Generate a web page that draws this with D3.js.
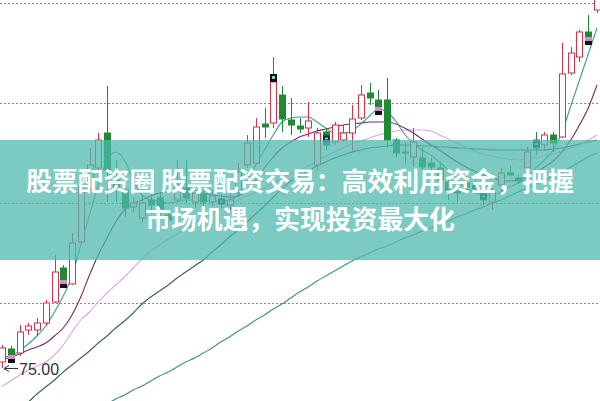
<!DOCTYPE html>
<html><head><meta charset="utf-8">
<script src="https://cdn.jsdelivr.net/npm/d3@7"></script>
<style>html,body{margin:0;padding:0;background:#fff;overflow:hidden}</style>
</head><body><svg id="c" width="600" height="401"></svg>
<script>
// ---- data (prices) ----
const opens  = [75.6,76.9,76.5,78.8,78.8,79.5,81.6,85.0,83.4,87.6,93.0,95.0,98.5,93.8,92.8,91.1,90.0,91.8,92.0,90.3,91.8,93.0,91.6,92.4,91.6,91.8,91.3,92.5,95.3,95.5,99.4,99.5,102.3,99.8,99.2,99.0,95.3,98.6,97.6,97.8,98.5,100.0,102.5,101.8,101.8,97.8,96.6,96.1,96.0,95.5,95.0,93.6,92.9,93.5,93.3,92.5,91.6,93.3,94.5,94.0,95.0,97.8,97.3,98.3,98.1,104.5,106.1,108.6,110.8];
const highs  = [77.3,77.2,79.3,79.5,80.0,81.8,86.3,85.3,88.5,94.0,97.0,98.5,103.2,95.8,93.3,92.0,92.3,92.4,92.6,90.8,95.8,95.8,93.0,93.2,92.8,92.4,92.5,95.5,98.3,100.0,101.0,106.1,103.2,102.0,100.0,101.6,99.0,99.0,99.6,99.3,101.3,103.3,103.5,102.8,104.0,98.0,97.6,99.0,97.1,96.0,95.4,94.1,93.3,94.5,93.8,93.0,93.0,95.0,95.2,94.3,97.1,98.6,98.6,98.6,107.5,107.1,108.8,110.3,113.0];
const lows   = [75.0,75.8,76.2,78.3,78.2,79.2,81.5,83.6,83.3,87.5,92.5,94.5,91.6,91.6,90.1,90.6,89.6,90.8,90.2,89.2,91.6,91.5,91.0,91.2,91.2,91.0,90.6,92.1,95.0,95.3,98.0,99.0,98.6,98.3,98.5,98.1,94.8,96.8,97.3,97.6,96.6,99.8,101.3,100.8,97.1,96.1,95.5,95.1,94.8,94.8,93.3,91.8,91.6,92.6,92.4,91.3,90.8,92.6,94.2,93.4,94.8,96.3,96.8,96.6,98.0,104.3,105.6,107.3,110.5];
const closes = [77.0,76.3,78.6,79.2,79.5,81.5,84.6,83.8,87.5,93.1,95.3,97.8,94.8,93.0,91.0,91.5,91.5,91.3,90.6,89.8,93.3,92.0,92.5,91.6,92.2,91.5,91.8,94.6,97.5,99.1,99.1,103.6,99.9,99.3,98.9,99.7,98.5,97.3,99.3,98.5,99.9,102.3,102.0,101.1,97.8,96.5,96.5,97.6,95.1,95.1,93.8,92.6,92.5,93.1,92.9,91.8,92.6,94.5,94.3,93.7,96.6,97.0,98.3,97.5,104.4,106.5,108.6,108.1,112.5];
// signal markers on some candles: [candle index, kind]
const markers = [[1,'pb'],[7,'pb'],[25,'dk'],[31,'top'],[37,'dk'],[43,'pb'],[55,'dk'],[61,'dk'],[67,'pb']];
// moving averages (price)
const ma5  = [76.1,76.2,76.7,77.4,78.2,79.2,80.6,82.2,84.2,87.3,90.3,93.3,95.8,96.6,95.8,93.8,92.3,91.8,91.7,91.5,91.6,91.8,91.8,91.7,91.7,91.7,91.8,92.3,93.6,95.3,96.8,98.3,99.6,100.0,100.1,100.1,99.6,99.0,98.5,98.5,98.7,99.4,100.2,100.9,100.6,99.7,98.4,97.5,96.8,96.3,95.6,94.8,93.8,93.0,92.6,92.3,92.3,92.6,93.1,93.5,94.0,95.0,95.8,96.8,98.6,101.2,103.8,106.4,109.0];
const ma10 = [75.8,76.1,76.4,76.8,77.1,77.5,78.2,79.0,80.3,82.1,84.3,86.3,88.0,89.6,90.8,91.4,91.8,92.2,92.5,92.6,92.6,92.6,92.6,92.5,92.3,92.2,92.1,92.2,92.8,93.8,95.0,96.1,97.0,97.6,98.1,98.4,98.7,98.9,99.1,99.3,99.4,99.5,99.6,99.6,99.6,99.4,99.0,98.5,97.9,97.3,96.8,96.2,95.6,95.1,94.7,94.3,94.0,93.8,93.7,93.8,94.1,94.6,95.1,95.7,96.6,97.8,99.3,101.0,103.3];
const ma20 = [73.2,73.7,74.3,74.8,75.2,75.6,76.3,77.3,78.6,79.8,80.6,81.6,82.5,83.3,84.1,85.0,85.9,86.7,87.3,87.9,88.4,88.9,89.4,90.0,90.5,91.0,91.4,91.8,92.2,92.6,93.0,93.5,94.0,94.4,94.8,95.2,95.7,96.2,96.6,97.0,97.4,97.7,98.0,98.3,98.5,98.7,98.8,98.8,98.8,98.7,98.3,97.9,97.5,97.1,96.7,96.4,96.2,96.0,95.9,95.8,95.9,96.0,96.2,96.4,96.7,97.0,97.3,97.8,98.3];
const ma60 = [69.5,70.2,70.9,71.6,72.4,73.1,73.8,74.6,75.3,76.0,76.7,77.5,78.2,79.0,79.7,80.5,81.4,82.1,82.7,83.3,84.0,84.6,85.2,85.8,86.6,87.3,88.1,88.8,89.6,90.4,91.2,92.1,92.9,93.7,94.2,94.7,95.2,95.6,96.0,96.3,96.6,96.8,97.0,97.1,97.2,97.3,97.3,97.3,97.2,97.2,97.1,97.1,97.0,97.0,96.9,96.9,96.8,96.8,96.8,96.8,96.8,96.8,96.8,96.9,97.0,97.2,97.4,97.6,97.8];
const ma120= [65.8,66.3,66.7,67.2,67.7,68.1,68.6,69.0,69.5,70.0,70.4,70.9,71.4,71.9,72.3,72.8,73.2,73.7,74.2,74.6,75.1,75.6,76.0,76.5,77.0,77.6,78.1,78.7,79.2,79.8,80.3,80.9,81.4,82.0,82.6,83.1,83.7,84.2,84.7,85.2,85.7,86.1,86.5,86.9,87.2,87.6,88.0,88.3,88.7,89.0,89.4,89.7,90.1,90.4,90.8,91.1,91.5,91.8,92.2,92.6,93.0,93.4,93.8,94.2,94.6,95.1,95.6,96.1,96.5];
const gridPrices = [111.5, 101.5, 91.5, 81.5];
const lowLabel = "75.00";
const titleLines = ["股票配资圈 股票配资交易：高效利用资金，把握", "市场机遇，实现投资最大化"];

// ---- drawing ----
const W = 600, H = 401;
const svg = d3.select("#c");
const x = d3.scaleLinear().domain([0, opens.length - 1]).range([2, 597]);
const y = d3.scaleLinear().domain([75, 111.8]).range([368, 0]);
const RED = "#dc2f45", GREEN = "#1f8a34";
const cx = i => Math.round(x(i)) + 0.5;

// grid
svg.append("g").selectAll("line").data(gridPrices).join("line")
  .attr("x1", 0).attr("x2", W)
  .attr("y1", d => Math.round(y(d)) + 0.5).attr("y2", d => Math.round(y(d)) + 0.5)
  .attr("stroke", "#8a8a8a").attr("stroke-width", 1).attr("stroke-dasharray", "2,2");

// moving averages
const maDefs = [
  [ma120, "#3f8f8a"], [ma60, "#2f6a3a"], [ma20, "#e3a2e2"], [ma10, "#742a62"], [ma5, "#3c9c9e"]
];
const line = d3.line().x((d, i) => x(i)).y(d => y(d)).curve(d3.curveMonotoneX);
maDefs.forEach(([arr, col]) => {
  svg.append("path").datum(arr).attr("d", line)
    .attr("fill", "none").attr("stroke", col).attr("stroke-width", 1.1);
});

// candles
const idx = d3.range(opens.length);
const g = svg.append("g");
idx.forEach(i => {
  const up = closes[i] >= opens[i];
  const col = up ? RED : GREEN;
  const top = y(Math.max(opens[i], closes[i])), bot = y(Math.min(opens[i], closes[i]));
  const X = cx(i);
  g.append("line").attr("x1", X).attr("x2", X).attr("y1", y(highs[i])).attr("y2", y(lows[i]))
    .attr("stroke", col).attr("stroke-width", 1);
  if (up) {
    g.append("rect").attr("x", X - 3).attr("y", top).attr("width", 6).attr("height", Math.max(1, bot - top))
      .attr("fill", "#fff").attr("stroke", col).attr("stroke-width", 1);
  } else {
    g.append("rect").attr("x", X - 3.5).attr("y", top - 0.5).attr("width", 7).attr("height", Math.max(1.5, bot - top + 1))
      .attr("fill", col);
  }
});

// markers
markers.forEach(([i, kind]) => {
  const X = cx(i);
  const top = y(Math.max(opens[i], closes[i])), bot = y(Math.min(opens[i], closes[i]));
  if (kind === 'pb') {
    g.append("rect").attr("x", X - 3.5).attr("y", bot).attr("width", 7).attr("height", 4).attr("fill", "#d98ad6");
    g.append("rect").attr("x", X - 3.5).attr("y", bot + 4).attr("width", 7).attr("height", 4).attr("fill", "#111");
  } else if (kind === 'dk') {
    const m = (top + bot) / 2;
    g.append("rect").attr("x", X - 3.5).attr("y", m - 3).attr("width", 7).attr("height", 6).attr("fill", "#1b2a4a");
    g.append("rect").attr("x", X - 1.5).attr("y", m - 1).attr("width", 3).attr("height", 2).attr("fill", "#7fc6c0");
  } else {
    g.append("rect").attr("x", X - 3.5).attr("y", top - 8).attr("width", 7).attr("height", 8).attr("fill", "#111");
    g.append("rect").attr("x", X - 1.5).attr("y", top - 6).attr("width", 3).attr("height", 3).attr("fill", "#8fd0d0");
  }
});

// low label with arrow
const ly = Math.round(y(d3.min(lows))) + 0.5;
svg.append("line").attr("x1", 5).attr("x2", 18).attr("y1", ly).attr("y2", ly).attr("stroke", "#333").attr("stroke-width", 1);
svg.append("path").attr("d", `M4,${ly} L9,${ly - 3} M4,${ly} L9,${ly + 3}`).attr("stroke", "#333").attr("fill", "none");
svg.append("text").attr("x", 19).attr("y", ly + 6).text(lowLabel)
  .attr("font-family", "Liberation Sans, Arial, sans-serif").attr("font-size", 16).attr("fill", "#333");

// overlay band and title
svg.append("rect").attr("x", 0).attr("y", 140).attr("width", W).attr("height", 120)
  .attr("fill", "rgb(80,185,174)").attr("fill-opacity", 0.75);
svg.append("g").selectAll("text").data(titleLines).join("text")
  .attr("x", 300).attr("y", (d, i) => 191 + i * 38)
  .attr("text-anchor", "middle")
  .attr("font-family", "'Noto Sans CJK SC', sans-serif").attr("font-weight", 700)
  .attr("font-size", 25.8).attr("fill", "#fff")
  .text(d => d);
</script></body></html>
